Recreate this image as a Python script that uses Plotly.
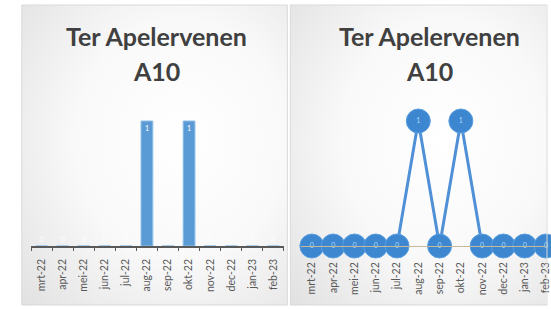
import base64
import plotly.graph_objects as go

# ---- data ----
months = ["mrt-22", "apr-22", "mei-22", "jun-22", "jul-22", "aug-22",
          "sep-22", "okt-22", "nov-22", "dec-22", "jan-23", "feb-23"]
bar_values = [0, 0, 0, 0, 0, 1, 0, 1, 0, 0, 0, 0]
line_values = [0, 0, 0, 0, 0, 1, 0, 1, 0, 0, 0, 0]
title_line1 = "Ter Apelervenen"
title_line2 = "A10"

W, H = 551, 309
def px(x): return x / W
def py(y): return 1 - y / H

svg = """<svg xmlns='http://www.w3.org/2000/svg' width='200' height='200' preserveAspectRatio='none'>
<defs><radialGradient id='g' cx='0.6' cy='0.45' r='0.8'>
<stop offset='0' stop-color='#ffffff'/><stop offset='0.5' stop-color='#f9f9f9'/>
<stop offset='1' stop-color='#e2e2e2'/></radialGradient></defs>
<rect width='200' height='200' fill='url(#g)'/></svg>"""
src = "data:image/svg+xml;base64," + base64.b64encode(svg.encode()).decode()

fig = go.Figure()

blue = "#4f90d6"
fig.add_trace(go.Bar(
    x=months, y=bar_values, xaxis="x", yaxis="y",
    marker=dict(color="#5b9bd5", line=dict(color="#8fc0ea", width=1)),
    width=0.56,
    text=[str(v) for v in bar_values],
    textposition=["inside" if v > 0 else "outside" for v in bar_values],
    insidetextanchor="end",
    textfont=dict(color="white", size=7, family="Lato"),
    cliponaxis=False, showlegend=False,
))

fig.add_trace(go.Scatter(
    x=months, y=line_values, xaxis="x2", yaxis="y2",
    mode="lines+markers+text",
    line=dict(color=blue, width=3),
    marker=dict(size=24, color="#3d86d0", line=dict(color="#5a9fe0", width=1)),
    text=[str(v) for v in line_values],
    textposition="middle center",
    textfont=dict(color="#a9dbf7", size=7, family="Lato"),
    cliponaxis=False, showlegend=False,
))

axis_common = dict(
    type="category", showgrid=False, zeroline=False,
    tickangle=-90, tickfont=dict(size=10.5, color="#595959", family="Lato"),
    showline=True,
)
yaxis_common = dict(range=[0, 1.2], visible=False, showgrid=False,
                    domain=[py(246), py(96)])

fig.update_layout(
    width=W, height=H,
    margin=dict(l=0, r=0, t=0, b=0),
    paper_bgcolor="white", plot_bgcolor="rgba(0,0,0,0)",
    xaxis=dict(domain=[px(31.3), px(286.5)], range=[-0.5, 11.5],
               linecolor="#595959", linewidth=1.5, ticks="outside",
               tickson="boundaries", ticklen=3, tickcolor="#595959",
               anchor="y", ticklabelstandoff=7, **axis_common),
    yaxis=dict(anchor="x", **yaxis_common),
    xaxis2=dict(domain=[px(304), 1.0], range=[-0.5, 11.0],
                linecolor="#c8b89a", linewidth=1, ticks="",
                anchor="y2", ticklabelstandoff=11, **axis_common),
    yaxis2=dict(anchor="x2", **yaxis_common),
    bargap=0.4,
    images=[
        dict(source=src, xref="paper", yref="paper", x=px(22), y=py(5),
             sizex=px(290) - px(22), sizey=py(5) - py(305),
             sizing="stretch", layer="below"),
        dict(source=src, xref="paper", yref="paper", x=px(293), y=py(5),
             sizex=px(551) - px(293), sizey=py(5) - py(305),
             sizing="stretch", layer="below"),
    ],
    shapes=[
        dict(type="rect", xref="paper", yref="paper", x0=px(22), x1=px(290),
             y0=py(305), y1=py(5), line=dict(color="#d9d9d9", width=1)),
        dict(type="rect", xref="paper", yref="paper", x0=px(293), x1=px(552),
             y0=py(305), y1=py(5), line=dict(color="#d9d9d9", width=1)),
    ],
)

for cx in (158, 433):
    fig.add_annotation(text=f"<b>{title_line1}</b>", x=px(cx), y=py(36),
                       xref="paper", yref="paper", showarrow=False,
                       font=dict(size=25, color="#404040", family="Lato"),
                       xanchor="center", yanchor="middle")
    fig.add_annotation(text=f"<b>{title_line2}</b>", x=px(cx), y=py(71),
                       xref="paper", yref="paper", showarrow=False,
                       font=dict(size=25, color="#404040", family="Lato"),
                       xanchor="center", yanchor="middle")

fig.write_html("out.html", config={"displayModeBar": False},
               post_script="document.body.style.margin='0';document.body.style.overflow='hidden';")
